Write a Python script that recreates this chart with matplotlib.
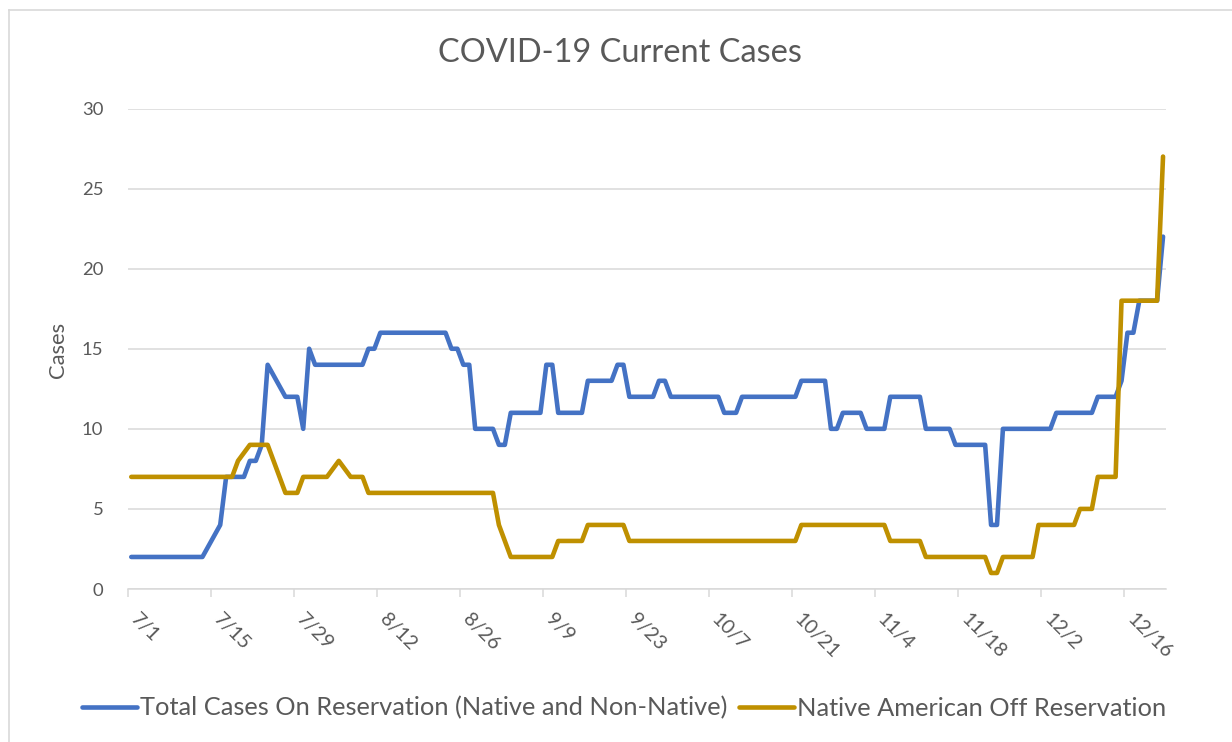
import matplotlib
matplotlib.use("Agg")
import matplotlib.pyplot as plt
import matplotlib.transforms as mtransforms
from matplotlib.lines import Line2D
import pandas as pd

# ---------------- data ----------------
YEAR = 2020
title = "COVID-19 Current Cases"
y_label = "Cases"
series_names = ["Total Cases On Reservation (Native and Non-Native)",
                "Native American Off Reservation"]

blue_dates = ["7/1", "7/13", "7/16", "7/17", "7/20", "7/21", "7/22", "7/23", "7/24",
              "7/27", "7/29", "7/30", "7/31", "8/1", "8/9", "8/10", "8/11", "8/12",
              "8/23", "8/24", "8/25", "8/26", "8/27", "8/28", "8/31", "9/1", "9/2",
              "9/3", "9/8", "9/9", "9/10", "9/11", "9/15", "9/16", "9/20", "9/21",
              "9/22", "9/23", "9/27", "9/28", "9/29", "9/30", "10/8", "10/9", "10/11",
              "10/12", "10/21", "10/22", "10/26", "10/27", "10/28", "10/29", "11/1",
              "11/2", "11/5", "11/6", "11/11", "11/12", "11/16", "11/17", "11/22",
              "11/23", "11/24", "11/25", "12/3", "12/4", "12/10", "12/11", "12/14",
              "12/15", "12/16", "12/17", "12/18", "12/21", "12/22"]
blue_values = [2, 2, 4, 7, 7, 8, 8, 9, 14,
               12, 12, 10, 15, 14, 14, 15, 15, 16,
               16, 15, 15, 14, 14, 10, 10, 9, 9,
               11, 11, 14, 14, 11, 11, 13, 13, 14,
               14, 12, 12, 13, 13, 12, 12, 11, 11,
               12, 12, 13, 13, 10, 10, 11, 11,
               10, 10, 12, 12, 10, 10, 9, 9,
               4, 4, 10, 10, 11, 11, 12, 12,
               13, 16, 16, 18, 18, 22]

orange_dates = ["7/1", "7/18", "7/19", "7/21", "7/24", "7/27", "7/29", "7/30", "8/3",
                "8/5", "8/7", "8/9", "8/10", "8/31", "9/1", "9/3", "9/10", "9/11",
                "9/15", "9/16", "9/22", "9/23", "10/21", "10/22", "11/5", "11/6",
                "11/11", "11/12", "11/22", "11/23", "11/24", "11/25", "11/30", "12/1",
                "12/7", "12/8", "12/10", "12/11", "12/14", "12/15", "12/21", "12/22"]
orange_values = [7, 7, 8, 9, 9, 6, 6, 7, 7,
                 8, 7, 7, 6, 6, 4, 2, 2, 3,
                 3, 4, 4, 3, 3, 4, 4, 3,
                 3, 2, 2, 1, 1, 2, 2, 4,
                 4, 5, 5, 7, 7, 18, 18, 27]

x_tick_labels = ["7/1", "7/15", "7/29", "8/12", "8/26", "9/9", "9/23", "10/7",
                 "10/21", "11/4", "11/18", "12/2", "12/16"]
y_ticks = [0, 5, 10, 15, 20, 25, 30]

# ---------------- style ----------------
FONT = "Lato"
TXT = "#595959"
GRID = "#D9D9D9"
BLUE = "#4472C4"
GOLD = "#BF9000"
W, H = 1232, 742

plt.rcParams["font.family"] = [FONT, "DejaVu Sans"]


def to_dt(s):
    return pd.to_datetime(f"{YEAR}/{s}", format="%Y/%m/%d")


fig = plt.figure(figsize=(W / 100, H / 100), dpi=100)
fig.patch.set_facecolor("white")


def text_width(s, size):
    t = fig.text(0, 0, s, fontsize=size)
    fig.canvas.draw()
    w = t.get_window_extent().width
    t.remove()
    return w


# chart-area border (light grey) - top and left visible
fig.add_artist(Line2D([8.5 / W, 8.5 / W], [0, 1 - 10 / H], color=GRID, lw=1.2,
                      transform=fig.transFigure))
fig.add_artist(Line2D([8.5 / W, 1], [1 - 10 / H, 1 - 10 / H], color=GRID, lw=1.2,
                      transform=fig.transFigure))

ax = fig.add_axes([128.3 / W, 1 - 589 / H, (1166 - 128.3) / W, (589 - 108.5) / H])

bx = [to_dt(s) for s in blue_dates]
ox = [to_dt(s) for s in orange_dates]
ax.plot(bx, blue_values, color=BLUE, lw=3.3, solid_joinstyle="round",
        solid_capstyle="round", label=series_names[0], zorder=3)
ax.plot(ox, orange_values, color=GOLD, lw=3.3, solid_joinstyle="round",
        solid_capstyle="round", label=series_names[1], zorder=4)

half = pd.Timedelta(hours=12)
ax.set_xlim(min(bx) - half, max(bx) + half)
ax.set_ylim(0, 30)
ax.set_yticks(y_ticks)
ax.set_xticks([to_dt(s) - half for s in x_tick_labels])

base_fs = 13.5 * 20 / text_width("30", 13.5)
ax.set_xticklabels(x_tick_labels, fontsize=base_fs * 1.15, color=TXT)
ax.set_yticklabels([str(v) for v in y_ticks], fontsize=base_fs * 1.07, color=TXT)

ax.yaxis.grid(True, color=GRID, lw=1.1)
ax.set_axisbelow(True)
for sp in ["top", "right", "left"]:
    ax.spines[sp].set_visible(False)
ax.spines["bottom"].set_color(GRID)
ax.spines["bottom"].set_linewidth(1.1)
ax.spines["bottom"].set_zorder(1)

ax.tick_params(axis="x", length=8 * 0.72, width=1.1, color=GRID, direction="out",
               pad=19 * 0.72)
ax.tick_params(axis="y", length=0, pad=25 * 0.72)

offset = mtransforms.ScaledTranslation(5.0 / 100, 0, fig.dpi_scale_trans)
for lab in ax.get_xticklabels():
    lab.set_rotation(-45)
    lab.set_ha("left")
    lab.set_va("center")
    lab.set_rotation_mode("anchor")
    lab.set_transform(lab.get_transform() + offset)

# title
title_fs = 20 * 364 / text_width(title, 20)
fig.text(620 / W, 1 - 53 / H, title, ha="center", va="center", fontsize=title_fs,
         color=TXT)

# y label
ylab_fs = 14 * 56 / text_width(y_label, 14)
fig.text(58 / W, 1 - 350 / H, y_label, ha="center", va="center", rotation=90,
         fontsize=ylab_fs, color=TXT)

# legend
leg_fs = 16 * 590 / text_width(series_names[0], 16)
fs_px = leg_fs * 100 / 72
handles, labels = ax.get_legend_handles_labels()
fig.legend(handles, labels, loc="center", bbox_to_anchor=(624 / W, 1 - 708 / H),
           ncol=2, frameon=False, fontsize=leg_fs, labelcolor=TXT,
           handlelength=55 / fs_px, handletextpad=3 / fs_px,
           columnspacing=12 / fs_px, borderpad=0, borderaxespad=0)

fig.savefig("out.png", dpi=100, facecolor="white")
